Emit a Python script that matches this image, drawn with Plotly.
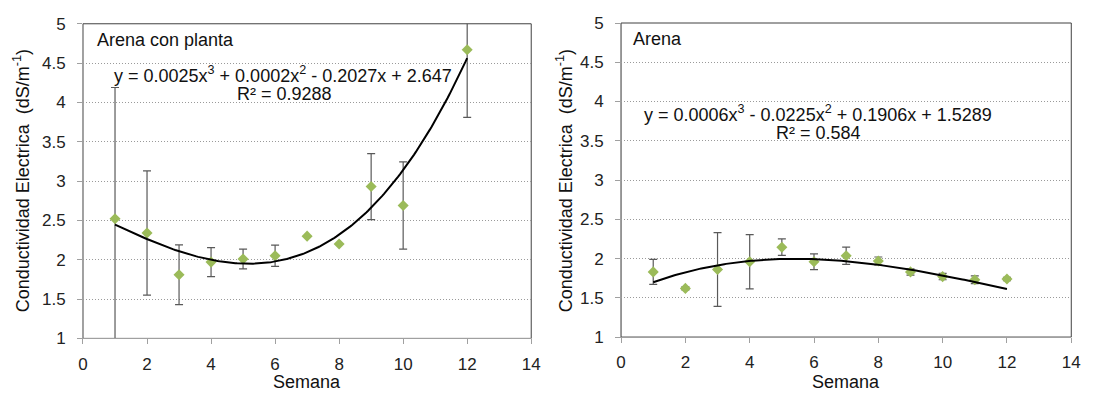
import numpy as np
import plotly.graph_objects as go

# ---- data ----
weeks_planta = [1, 2, 3, 4, 5, 6, 7, 8, 9, 10, 12]
ce_planta = [2.52, 2.34, 1.81, 1.97, 2.01, 2.05, 2.30, 2.20, 2.93, 2.69, 4.67]
err_planta = [1.67, 0.79, 0.38, 0.185, 0.125, 0.135, 0.0, 0.0, 0.42, 0.555, 0.86]
coef_planta = [0.0025, 0.0002, -0.2027, 2.647]

weeks_arena = [1, 2, 3, 4, 5, 6, 7, 8, 9, 10, 11, 12]
ce_arena = [1.83, 1.62, 1.86, 1.96, 2.145, 1.96, 2.035, 1.97, 1.83, 1.77, 1.73, 1.74]
err_arena = [0.16, 0.02, 0.47, 0.345, 0.105, 0.10, 0.11, 0.05, 0.04, 0.04, 0.05, 0.02]
coef_arena = [0.0006, -0.0225, 0.1906, 1.5289]

eq_planta = "y = 0.0025x<sup>3</sup> + 0.0002x<sup>2</sup> - 0.2027x + 2.647"
r2_planta = "R² = 0.9288"
eq_arena = "y = 0.0006x<sup>3</sup> - 0.0225x<sup>2</sup> + 0.1906x + 1.5289"
r2_arena = "R² = 0.584"

x_ticks = [0, 2, 4, 6, 8, 10, 12, 14]
y_ticks = [1, 1.5, 2, 2.5, 3, 3.5, 4, 4.5, 5]
y_tick_text = ["1", "1.5", "2", "2.5", "3", "3.5", "4", "4.5", "5"]

W, H = 1101, 403

def fx(px):
    return px / W

def fy(py):
    return 1 - py / H

FONT = "Liberation Sans, Arial, sans-serif"
GREEN = "#9BBB59"
ERR = "#595959"
AXIS = "#a0a0a0"
FRAME = "#404040"
TXT = "#111111"

fig = go.Figure()

def add_panel(xs, ys, es, coef, xa, ya):
    fig.add_trace(go.Scatter(
        x=xs, y=ys, mode="markers",
        marker=dict(symbol="diamond", size=8.5, color=GREEN),
        error_y=dict(type="data", array=es, visible=True, color=ERR,
                     thickness=1.2, width=4),
        xaxis=xa, yaxis=ya, showlegend=False, cliponaxis=True))
    xf = np.linspace(min(xs), max(xs), 200)
    yf = np.polyval(coef, xf)
    fig.add_trace(go.Scatter(
        x=xf, y=yf, mode="lines", line=dict(color="black", width=2),
        xaxis=xa, yaxis=ya, showlegend=False))

add_panel(weeks_planta, ce_planta, err_planta, coef_planta, "x", "y")
add_panel(weeks_arena, ce_arena, err_arena, coef_arena, "x2", "y2")

dom1 = [fx(79), fx(533)]
dom2 = [fx(624), fx(1080)]
ydom1 = [fy(345.7), fy(15.5)]
ydom2 = [fy(344.3), fy(14.7)]

xcommon = dict(range=[0, 14], tickvals=x_ticks, ticks="outside", ticklen=5,
               tickcolor=AXIS, showline=True, linecolor=AXIS, linewidth=1,
               showgrid=False, zeroline=False, ticklabelstandoff=5,
               tickfont=dict(family=FONT, size=17, color="#222222"))
ycommon = dict(range=[1, 5], tickvals=y_ticks, ticktext=y_tick_text,
               ticks="outside", ticklen=5, tickcolor=AXIS, showline=True,
               linecolor=AXIS, linewidth=1, showgrid=True,
               gridcolor="#9a9a9a", griddash="1px,2px", gridwidth=1,
               zeroline=False, ticklabelstandoff=8,
               tickfont=dict(family=FONT, size=17, color="#222222"))

fig.update_layout(
    width=W, height=H, autosize=False,
    margin=dict(l=0, r=0, t=0, b=0),
    paper_bgcolor="white", plot_bgcolor="white",
    xaxis=dict(domain=dom1, anchor="y", **xcommon),
    yaxis=dict(domain=ydom1, anchor="x", **ycommon),
    xaxis2=dict(domain=dom2, anchor="y2", **xcommon),
    yaxis2=dict(domain=ydom2, anchor="x2", **ycommon),
)

# plot-area frame (dark), axis lines drawn over it in light grey
for xr, yr in (("x domain", "y domain"), ("x2 domain", "y2 domain")):
    fig.add_shape(type="rect", xref=xr, yref=yr, x0=0, x1=1, y0=0, y1=1,
                  line=dict(color=FRAME, width=1), layer="below")

def note(x, y, text, anchor="center", angle=0, size=18):
    return dict(x=fx(x), y=fy(y), xref="paper", yref="paper", text=text,
                showarrow=False, xanchor=anchor, yanchor="middle",
                textangle=angle, font=dict(family=FONT, size=size, color=TXT))

ann = [
    note(91, 33, "Arena con planta", anchor="left"),
    note(634, 32, "Arena", anchor="left"),
    note(282, 69, eq_planta),
    note(283, 89, r2_planta),
    note(823, 110, eq_arena),
    note(824, 130, r2_arena),
]
ytitle = "Conductividad Electrica  (dS/m<sup>-1</sup>)"
for xc in (17, 567):
    ann.append(note(xc, 180, ytitle, angle=-90, size=18))
for xc in (306, 852):
    ann.append(note(xc, 391, "Semana", size=18))
fig.update_layout(annotations=ann)

fig.write_html("out.html")
